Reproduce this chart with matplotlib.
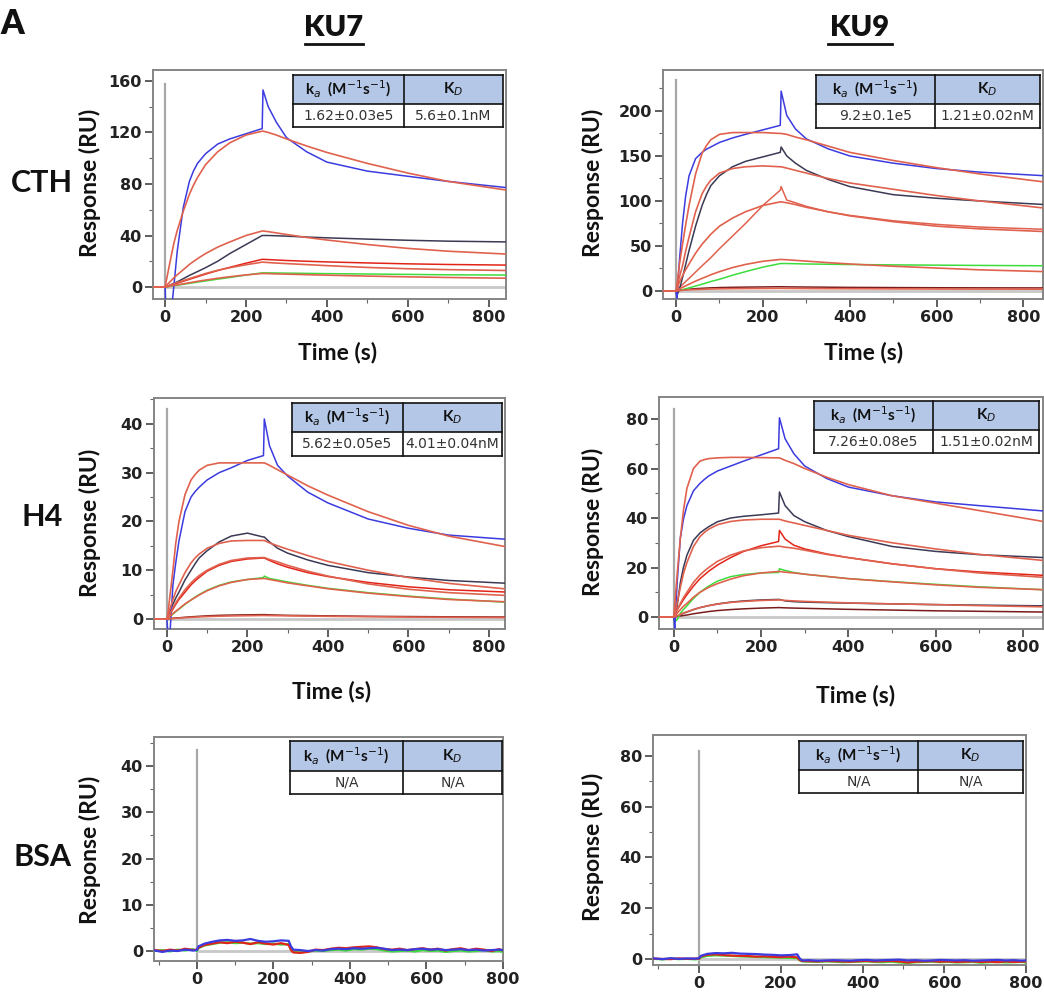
import matplotlib
matplotlib.use("Agg")
import matplotlib.pyplot as plt
from matplotlib.patches import Rectangle
from matplotlib.lines import Line2D
from matplotlib.ticker import MultipleLocator

W, H = 1044, 993

# sensorgram sampling times (s) for the kinetic panels
T = [-35, 0, 2, 8, 15, 22, 30, 45, 60, 70, 80, 100, 130, 160, 200, 240, 242, 255, 275, 300, 350, 400, 500, 600, 700, 850]

# KU7 / CTH
KU7_CTH_BLUE = [0, 0, -20, -20, -20, 2, 28, 62, 82, 90, 96, 103.5, 111, 115, 119, 123, 153, 140, 128, 116, 105, 97, 90, 86, 82, 77]
KU7_CTH_BLUE_FIT = [0, 0, 3.5, 13, 24, 34.5, 44, 59, 72, 79, 85, 95, 105, 112, 118, 121, 121, 120, 118, 115, 109.5, 104.5, 96, 88.5, 82, 75]
KU7_CTH_BLACK = [0, 0, 0.2, 0.8, 2, 2.9, 4, 6.5, 9, 10.5, 12, 15, 20, 26, 33, 40, 40, 40, 39.8, 39.5, 38.8, 38.2, 37.2, 36.3, 35.6, 35]
KU7_CTH_BLACK_FIT = [0, 0, 0.7, 2.8, 5, 7.3, 9.5, 13.5, 17.5, 19.8, 22, 26, 31, 35, 40, 43.5, 43.5, 43, 42, 40.8, 38.5, 36.5, 33, 30, 27.8, 25.5]
KU7_CTH_RED = [0, 0, 0.2, 0.7, 1.5, 2.2, 3, 4.5, 6, 7, 8, 10, 12.8, 15.3, 18.5, 21.5, 21.5, 21.3, 21, 20.6, 20, 19.5, 18.7, 18, 17.5, 17]
KU7_CTH_RED_FIT = [0, 0, 0.2, 0.9, 1.8, 2.6, 3.5, 5, 6.5, 7.5, 8.5, 10.5, 13, 15, 17.3, 19.3, 19.3, 19, 18.6, 18.2, 17.4, 16.6, 15.2, 14.2, 13.5, 12.8]
KU7_CTH_GREEN = [0, 0, 0.1, 0.3, 0.7, 1.0, 1.4, 2.1, 2.8, 3.3, 3.8, 4.7, 6.1, 7.4, 9.3, 11, 11, 11, 10.9, 10.8, 10.6, 10.4, 10.1, 9.8, 9.5, 9.3]
KU7_CTH_GREEN_FIT = [0, 0, 0.1, 0.4, 0.9, 1.3, 1.7, 2.5, 3.3, 3.85, 4.4, 5.4, 6.8, 8, 9.4, 10.5, 10.5, 10.4, 10.2, 10, 9.6, 9.2, 8.5, 7.9, 7.4, 6.8]

# KU9 / CTH
KU9_CTH_BLUE = [0, 0, -8, 35, 75, 105, 128, 147, 154, 157.5, 160, 165, 170, 174, 179, 184, 222, 195, 180, 169, 158, 150, 142, 136, 132, 128]
KU9_CTH_BLUE_FIT = [0, 0, 7, 30, 52, 73, 95, 130, 153, 161.5, 168, 174, 176, 176, 176, 175, 175, 174, 171, 168, 161, 154, 145, 137, 130, 121]
KU9_CTH_BLACK = [0, 0, -5, 2, 15, 29, 45, 72, 95, 107, 117, 128, 138, 144, 149, 154, 160, 150, 142, 134, 124, 116, 107, 103, 100, 96]
KU9_CTH_BLACK_FIT = [0, 0, 3, 16, 28, 44, 60, 88, 108, 116.5, 123, 131, 136, 138, 139, 138, 138, 136.5, 134, 131, 125, 120, 113, 106, 100, 92]
KU9_CTH_RED = [0, 0, 1, 4, 7, 10.5, 14, 21, 28, 32.5, 37, 47, 61, 75, 95, 112, 116, 101, 98, 94, 88, 84, 78, 74, 71, 68.5]
KU9_CTH_RED_FIT = [0, 0, 2.5, 10, 17, 23.5, 30, 42, 52, 57.5, 63, 72, 81, 88, 95, 99, 99, 98, 96, 93, 88, 83.5, 77, 72, 69, 66]
KU9_CTH_GREEN = [0, 0, 0.2, 0.8, 1.5, 2.4, 3.5, 5.5, 7.5, 9, 10.5, 13, 17.5, 21.5, 26.5, 30.5, 30.5, 30.5, 30.3, 30, 29.7, 29.4, 29, 28.7, 28.4, 28]
KU9_CTH_GREEN_FIT = [0, 0, 0.6, 2.4, 4, 5.7, 7.5, 11, 14, 16, 18, 21.5, 26, 29.5, 33, 35, 35, 34.7, 34, 33.2, 31.5, 30, 27.5, 25.5, 23.5, 21.5]
KU9_CTH_LOW = [0, 0, 0.2, 0.7, 1.2, 1.6, 2, 2.6, 3, 3.25, 3.5, 3.8, 4.1, 4.3, 4.5, 4.7, 4.7, 4.6, 4.5, 4.4, 4.2, 4, 3.8, 3.6, 3.5, 3.4]
KU9_CTH_LOW_FIT = [0, 0, 0.1, 0.4, 0.8, 1.05, 1.3, 1.6, 1.9, 2.05, 2.2, 2.4, 2.6, 2.7, 2.8, 2.9, 2.9, 2.85, 2.8, 2.7, 2.6, 2.5, 2.35, 2.2, 2.1, 2]

# KU7 / H4
KU7_H4_BLUE = [0, 0, -2.5, -2.5, 7, 11.5, 16, 22, 25, 26.1, 27, 28.5, 30, 31, 32.5, 33.5, 41, 35.5, 31.5, 29.3, 26, 23.8, 20.5, 18.6, 17.2, 16.3]
KU7_H4_BLUE_FIT = [0, 0, 0.8, 5, 10, 15.5, 20, 25.5, 28.5, 29.6, 30.5, 31.5, 32, 32, 32, 32, 32, 31.5, 30.6, 29.5, 27.3, 25.4, 22, 19.2, 17, 14.7]
KU7_H4_BLACK = [0, 0, 0.3, 1.5, 3, 4.3, 5.5, 8, 10, 11.3, 12.5, 14, 15.8, 17, 17.6, 16.8, 16.8, 15.8, 14.5, 13.5, 12.1, 11, 9.5, 8.6, 7.9, 7.3]
KU7_H4_BLACK_FIT = [0, 0, 0.5, 2.2, 4, 5.6, 7, 9.5, 11.5, 12.5, 13.3, 14.5, 15.5, 16, 16.1, 16.1, 16.1, 15.6, 15, 14.3, 13, 11.8, 10, 8.5, 7.3, 6.1]
KU7_H4_RED = [0, 0, 0.2, 1, 2, 3, 4, 5.5, 7, 7.8, 8.5, 9.8, 11, 11.8, 12.3, 12.5, 12.5, 12, 11.3, 10.6, 9.5, 8.7, 7.5, 6.6, 6, 5.5]
KU7_H4_RED_FIT = [0, 0, 0.2, 1.1, 2.2, 3.3, 4.3, 6, 7.4, 8.2, 8.9, 10, 11.2, 12, 12.5, 12.6, 12.6, 12.2, 11.7, 11, 9.8, 8.8, 7.2, 6.1, 5.4, 4.8]
KU7_H4_GREEN = [0, 0, 0.1, 0.5, 1, 1.5, 2, 3, 3.9, 4.5, 5, 5.9, 6.9, 7.6, 8.1, 8.5, 8.8, 8.3, 8, 7.6, 6.9, 6.3, 5.4, 4.7, 4.1, 3.4]
KU7_H4_GREEN_FIT = [0, 0, 0.1, 0.6, 1.1, 1.6, 2.1, 3.1, 3.9, 4.4, 4.9, 5.8, 6.8, 7.5, 8.1, 8.3, 8.3, 8.1, 7.8, 7.4, 6.8, 6.2, 5.3, 4.6, 4, 3.5]
KU7_H4_LOW = [0, 0, 0.02, 0.08, 0.15, 0.2, 0.25, 0.35, 0.45, 0.5, 0.55, 0.65, 0.75, 0.8, 0.85, 0.9, 0.9, 0.85, 0.8, 0.75, 0.7, 0.65, 0.55, 0.5, 0.45, 0.4]
KU7_H4_LOW_FIT = [0, 0, 0.01, 0.05, 0.1, 0.15, 0.2, 0.28, 0.35, 0.39, 0.43, 0.5, 0.58, 0.63, 0.68, 0.72, 0.72, 0.7, 0.68, 0.65, 0.6, 0.55, 0.47, 0.4, 0.35, 0.3]

# KU9 / H4
KU9_H4_BLUE = [0, 0, -4.5, 15, 32, 39.5, 45, 51, 54, 55.6, 57, 59, 61, 63, 65.5, 68, 80.5, 72, 66, 61, 56, 52.5, 49, 46.5, 45, 42.8]
KU9_H4_BLUE_FIT = [0, 0, 5, 18, 32, 43, 52, 60, 63, 63.6, 64, 64.3, 64.5, 64.5, 64.4, 64.3, 64.3, 63.3, 62, 60, 56.5, 53.5, 49, 46, 43, 38.5]
KU9_H4_BLACK = [0, 0, -1, 5, 14, 20, 25, 31, 34, 35.3, 36.5, 38.5, 40, 40.7, 41.3, 42, 50.5, 45, 41, 38.5, 35, 32.5, 28.5, 26.5, 25.2, 24]
KU9_H4_BLACK_FIT = [0, 0, 1.5, 6, 12, 17.5, 22, 28.5, 32.5, 34.2, 35.5, 37.3, 38.6, 39.2, 39.5, 39.5, 39.5, 38.8, 38, 37, 35, 33, 30, 27.5, 25.3, 22.8]
KU9_H4_RED = [0, 0, 0.5, 3, 5, 7, 9, 12.5, 15.5, 17, 18.5, 21, 24, 26.5, 28.8, 30.5, 35, 31.5, 29, 27.5, 25.5, 24, 21.5, 19.5, 18.2, 16.8]
KU9_H4_RED_FIT = [0, 0, 0.8, 3, 5.5, 7.8, 10, 14, 17, 18.6, 20, 22.5, 25, 26.7, 28, 28.6, 28.6, 28.2, 27.8, 27, 25.3, 24, 21.5, 19.5, 17.8, 16]
KU9_H4_GREEN = [0, 0, -2, -1, 1.5, 3, 4.5, 7.5, 10, 11.3, 12.5, 14.5, 16.3, 17.2, 17.8, 18, 19.5, 18.8, 18, 17.3, 16.4, 15.5, 14.3, 13.2, 12.2, 11]
KU9_H4_GREEN_FIT = [0, 0, 0.4, 1.6, 3, 4.3, 5.5, 8, 10, 11, 12, 13.5, 15.3, 16.7, 17.8, 18.4, 18.4, 18.1, 17.8, 17.3, 16.4, 15.5, 14.2, 13, 12, 11]
KU9_H4_LOW = [0, 0, 0.1, 0.4, 1, 1.5, 2, 3, 3.8, 4.2, 4.6, 5.3, 6, 6.5, 6.9, 7.1, 7.1, 6.5, 6.2, 6, 5.8, 5.6, 5.3, 5, 4.8, 4.5]
KU9_H4_LOW_FIT = [0, 0, 0.1, 0.5, 1.1, 1.6, 2.1, 3, 3.8, 4.2, 4.6, 5.2, 5.9, 6.3, 6.7, 6.9, 6.9, 6.7, 6.5, 6.3, 6, 5.7, 5.3, 5, 4.6, 4.1]
KU9_H4_LOW2 = [0, 0, 0.05, 0.2, 0.4, 0.6, 0.8, 1.3, 1.7, 1.95, 2.2, 2.6, 3, 3.3, 3.6, 3.8, 3.8, 3.7, 3.6, 3.5, 3.3, 3.1, 2.8, 2.5, 2.3, 2]

# BSA controls, sampled on their own time axis
BSA_T = [-110, -90, -70, -50, -30, -10, 0, 4, 20, 40,
         60, 80, 100, 120, 140, 160, 180, 200, 220, 240,
         246, 252, 270, 290, 310, 330, 350, 370, 390, 410,
         430, 450, 470, 490, 510, 530, 550, 570, 590, 610,
         630, 650, 670, 690, 710, 730, 750, 770, 790, 800]
KU7_BSA_BLUE = [0.1, -0.2, 0.1, 0.0, 0.3, 0.1, 0.2, 1.0, 1.6, 2.0,
                2.3, 2.4, 2.2, 2.3, 2.6, 2.2, 2.0, 2.1, 2.3, 2.2,
                1.0, 0.3, 0.2, 0.0, 0.2, 0.1, 0.4, 0.5, 0.4, 0.6,
                0.5, 0.6, 0.7, 0.5, 0.2, 0.3, 0.2, 0.4, 0.5, 0.3,
                0.4, 0.2, 0.3, 0.4, 0.2, 0.3, 0.1, 0.2, 0.3, 0.2]
KU7_BSA_GREEN = [0.0, 0.2, -0.1, 0.3, 0.1, 0.4, 0.0, 0.6, 1.2, 1.5,
                 1.8, 1.9, 1.7, 1.8, 1.6, 1.7, 1.5, 1.6, 1.4, 1.5,
                 0.3, -0.2, -0.3, -0.1, 0.1, 0.0, 0.2, 0.3, 0.1, 0.4,
                 0.3, 0.5, 0.4, 0.1, -0.1, 0.0, 0.1, -0.1, 0.2, 0.0,
                 0.1, -0.2, 0.0, 0.1, -0.1, 0.0, 0.2, -0.1, 0.0, -0.2]
KU7_BSA_RED = [0.2, 0.0, 0.3, 0.1, 0.5, 0.2, 0.3, 0.7, 1.3, 1.6,
               1.9, 1.7, 2.0, 1.8, 1.5, 1.9, 1.6, 1.4, 1.7, 1.3,
               0.2, -0.3, -0.4, -0.2, 0.3, 0.2, 0.5, 0.7, 0.6, 0.8,
               0.9, 1.0, 0.8, 0.4, 0.3, 0.5, 0.2, 0.4, 0.6, 0.3,
               0.5, 0.1, 0.4, 0.6, 0.2, 0.5, 0.3, 0.0, 0.4, 0.1]
KU9_BSA_BLUE = [0.2, -0.1, 0.3, 0.0, 0.2, 0.1, 0.3, 1.2, 2.0, 2.3,
                2.2, 2.4, 2.1, 2.0, 1.9, 1.7, 1.6, 1.4, 1.5, 1.8,
                0.2, -0.6, -0.5, -0.7, -0.6, -0.5, -0.6, -0.7, -0.5, -0.4,
                -0.6, -0.5, -0.4, -0.3, -0.6, -0.5, -0.7, -0.6, -0.4, -0.5,
                -0.6, -0.5, -0.7, -0.6, -0.5, -0.4, -0.6, -0.5, -0.7, -0.6]
KU9_BSA_GREEN = [0.0, -0.2, 0.1, -0.1, 0.0, -0.2, 0.0, 0.6, 1.2, 1.4,
                 1.3, 1.2, 1.0, 0.9, 0.8, 0.7, 0.6, 0.5, 0.4, 0.3,
                 -0.6, -1.0, -1.1, -1.2, -1.0, -1.1, -1.3, -1.2, -1.1, -1.0,
                 -1.2, -1.3, -1.1, -1.4, -1.6, -1.3, -1.2, -1.1, -1.3, -1.2,
                 -1.4, -1.3, -1.2, -1.5, -1.3, -1.2, -1.4, -1.3, -1.2, -1.4]
KU9_BSA_RED = [0.1, 0.0, -0.1, 0.2, 0.0, 0.1, 0.1, 1.0, 1.6, 1.8,
               1.5, 1.3, 1.2, 1.1, 0.9, 1.0, 0.8, 0.7, 0.9, 0.6,
               -0.4, -0.8, -0.9, -1.0, -0.8, -0.9, -1.0, -1.1, -0.9, -0.8,
               -1.0, -0.9, -0.8, -1.0, -1.4, -1.1, -1.0, -0.9, -1.1, -1.0,
               -1.2, -1.1, -1.0, -1.2, -1.1, -1.3, -1.0, -1.2, -1.1, -1.0]

# fitted constants shown in each panel
KA_LABELS = ["1.62\u00b10.03e5", "9.2\u00b10.1e5", "5.62\u00b10.05e5", "7.26\u00b10.08e5", "N/A", "N/A"]
KD_LABELS = ["5.6\u00b10.1nM", "1.21\u00b10.02nM", "4.01\u00b10.04nM", "1.51\u00b10.02nM", "N/A", "N/A"]
COLUMNS = ["KU7", "KU9"]
ROWS = ["CTH", "H4", "BSA"]

BLUE_C = "#3b3be0"
BLACK_C = "#3a3a55"
GREEN_C = "#3ddc3d"
RED_C = "#e22418"
FIT_C = "#e0624e"
LOW_C = "#7a1c1c"

LABEL_FONT = "Lato"
TICK_FONT = "DejaVu Sans"

plt.rcParams["mathtext.fontset"] = "dejavusans"

fig = plt.figure(figsize=(W / 100, H / 100), dpi=100)
fig.patch.set_facecolor("white")


def fxy(x, y):
    return x / W, 1 - y / H


def make_axes(l, r, t, b, xlim, ylim, ymajor, yminor, zero_top):
    ax = fig.add_axes([l / W, 1 - b / H, (r - l) / W, (b - t) / H])
    ax.set_xlim(*xlim)
    ax.set_ylim(*ylim)
    ax.xaxis.set_major_locator(MultipleLocator(200))
    ax.xaxis.set_minor_locator(MultipleLocator(100))
    ax.yaxis.set_major_locator(MultipleLocator(ymajor))
    ax.yaxis.set_minor_locator(MultipleLocator(yminor))
    for s in ax.spines.values():
        s.set_color("#858585")
        s.set_linewidth(1.4)
    ax.tick_params(which="major", length=6, width=1.1, color="#333333",
                   labelsize=11.5, pad=2)
    ax.tick_params(which="minor", length=3, width=0.8, color="#666666")
    for lab in ax.get_xticklabels() + ax.get_yticklabels():
        lab.set_fontfamily(TICK_FONT)
        lab.set_fontweight("bold")
        lab.set_color("#222222")
    # injection marker and baseline
    ax.plot([0, 0], [ylim[0], zero_top], color="#a8a8a8", lw=1.6, zorder=1)
    ax.plot([0, xlim[1]], [0, 0], color="#c8c8c8", lw=2.0, zorder=1)
    return ax


def draw_table(l, r, t, hb, b, mid, ka, kd):
    fig.add_artist(Rectangle(fxy(l, hb), (r - l) / W, (hb - t) / H,
                             transform=fig.transFigure, facecolor="#b4c7e7",
                             edgecolor="none", zorder=5))
    fig.add_artist(Rectangle(fxy(l, b), (r - l) / W, (b - hb) / H,
                             transform=fig.transFigure, facecolor="white",
                             edgecolor="none", zorder=5))
    for (x0, y0, x1, y1) in [(l, t, r, t), (l, hb, r, hb), (l, b, r, b),
                             (l, t, l, b), (r, t, r, b), (mid, t, mid, b)]:
        a, c = fxy(x0, y0)
        d, e = fxy(x1, y1)
        fig.add_artist(Line2D([a, d], [c, e], transform=fig.transFigure,
                              color="#111111", lw=1.2, zorder=6))
    hy = (t + hb) / 2
    vy = (hb + b) / 2
    fig.text(*fxy((l + mid) / 2, hy), r"k$_a$  (M$^{-1}$s$^{-1}$)", ha="center",
             va="center", fontsize=11, fontweight="bold", family=LABEL_FONT,
             color="#111111", zorder=7)
    fig.text(*fxy((mid + r) / 2, hy), r"K$_D$", ha="center", va="center",
             fontsize=11, fontweight="bold", family=LABEL_FONT,
             color="#111111", zorder=7)
    fig.text(*fxy((l + mid) / 2, vy), ka, ha="center", va="center",
             fontsize=10, family=TICK_FONT, color="#333333", zorder=7)
    fig.text(*fxy((mid + r) / 2, vy), kd, ha="center", va="center",
             fontsize=10, family=TICK_FONT, color="#333333", zorder=7)


def trace(ax, t, y, color, lw=1.1):
    ax.plot(t, y, color=color, lw=lw, zorder=3, solid_joinstyle="round")


# row 1: CTH
ax1 = make_axes(153, 506, 70, 299, (-30, 843), (-9.3, 168.5), 40, 20, 158)
for y, c in [(KU7_CTH_GREEN, GREEN_C), (KU7_CTH_RED, RED_C), (KU7_CTH_BLACK, BLACK_C),
             (KU7_CTH_BLUE, BLUE_C)]:
    trace(ax1, T, y, c)
for y in [KU7_CTH_GREEN_FIT, KU7_CTH_RED_FIT, KU7_CTH_BLACK_FIT, KU7_CTH_BLUE_FIT]:
    trace(ax1, T, y, FIT_C, 1.2)

ax2 = make_axes(663, 1043, 70, 299, (-30, 845), (-8.9, 245.5), 50, 25, 234)
for y, c in [(KU9_CTH_LOW, LOW_C), (KU9_CTH_GREEN, GREEN_C), (KU9_CTH_RED, FIT_C),
             (KU9_CTH_BLACK, BLACK_C), (KU9_CTH_BLUE, BLUE_C)]:
    trace(ax2, T, y, c)
for y in [KU9_CTH_LOW_FIT, KU9_CTH_GREEN_FIT, KU9_CTH_RED_FIT, KU9_CTH_BLACK_FIT,
          KU9_CTH_BLUE_FIT]:
    trace(ax2, T, y, FIT_C, 1.2)

# row 2: H4
ax3 = make_axes(154, 505, 398, 629, (-32, 840), (-2.05, 45.3), 10, 5, 43)
for y, c in [(KU7_H4_LOW, LOW_C), (KU7_H4_GREEN, GREEN_C), (KU7_H4_RED, RED_C),
             (KU7_H4_BLACK, BLACK_C), (KU7_H4_BLUE, BLUE_C)]:
    trace(ax3, T, y, c)
for y in [KU7_H4_LOW_FIT, KU7_H4_GREEN_FIT, KU7_H4_RED_FIT, KU7_H4_BLACK_FIT,
          KU7_H4_BLUE_FIT]:
    trace(ax3, T, y, FIT_C, 1.2)

ax4 = make_axes(659, 1043, 397, 629, (-34, 846), (-4.85, 88.9), 20, 10, 84)
for y, c in [(KU9_H4_LOW2, LOW_C), (KU9_H4_LOW, BLACK_C), (KU9_H4_GREEN, GREEN_C),
             (KU9_H4_RED, RED_C), (KU9_H4_BLACK, BLACK_C), (KU9_H4_BLUE, BLUE_C)]:
    trace(ax4, T, y, c)
for y in [KU9_H4_LOW_FIT, KU9_H4_GREEN_FIT, KU9_H4_RED_FIT, KU9_H4_BLACK_FIT,
          KU9_H4_BLUE_FIT]:
    trace(ax4, T, y, FIT_C, 1.2)

# row 3: BSA
ax5 = make_axes(154, 503, 737, 961, (-112, 800), (-2.16, 46.3), 10, 5, 43.5)
for y, c in [(KU7_BSA_GREEN, GREEN_C), (KU7_BSA_RED, RED_C), (KU7_BSA_BLUE, BLUE_C)]:
    trace(ax5, BSA_T, y, c, 1.6)

ax6 = make_axes(653, 1026, 735, 965, (-113, 800), (-2.4, 88.3), 20, 10, 82)
for y, c in [(KU9_BSA_GREEN, GREEN_C), (KU9_BSA_RED, RED_C), (KU9_BSA_BLUE, BLUE_C)]:
    trace(ax6, BSA_T, y, c, 1.6)

# kinetics tables
tables = [(293, 503, 75, 104, 127, 404), (816, 1040, 75, 104, 128, 935),
          (292, 502, 403, 432, 456, 403), (814, 1039, 401, 430, 453, 933),
          (290, 502, 741, 771, 794, 403), (799, 1023, 741, 770, 793, 918)]
for i, (l, r, t, hb, b, mid) in enumerate(tables):
    draw_table(l, r, t, hb, b, mid, KA_LABELS[i], KD_LABELS[i])

# axis titles
for x, y in [(90, 183), (593, 183), (90, 523), (593, 522), (90, 850), (593, 847)]:
    fig.text(*fxy(x, y), "Response (RU)", rotation=90, ha="center", va="center",
             fontsize=16.5, fontweight="bold", family=LABEL_FONT, color="#111111")
for x, y in [(338, 352), (864, 352), (332, 692), (856, 695)]:
    fig.text(*fxy(x, y), "Time (s)", ha="center", va="center",
             fontsize=16.5, fontweight="bold", family=LABEL_FONT, color="#111111")

# row and column headings
for name, y in zip(ROWS, [183, 517, 857]):
    fig.text(*fxy(42, y), name, ha="center", va="center", fontsize=22,
             fontweight="bold", family=LABEL_FONT, color="#111111")
for name, x in zip(COLUMNS, [334, 860]):
    fig.text(*fxy(x, 28), name, ha="center", va="center", fontsize=21,
             fontweight="heavy", family=LABEL_FONT, color="#111111")
for x0, x1 in [(305, 363), (828, 892)]:
    a, c = fxy(x0, 44)
    d, _ = fxy(x1, 44)
    fig.add_artist(Line2D([a, d], [c, c], transform=fig.transFigure,
                          color="#111111", lw=2.0))
fig.text(*fxy(12, 24), "A", ha="center", va="center", fontsize=24,
         fontweight="heavy", family=LABEL_FONT, color="#111111")

fig.savefig("out.png", dpi=100, facecolor="white")
